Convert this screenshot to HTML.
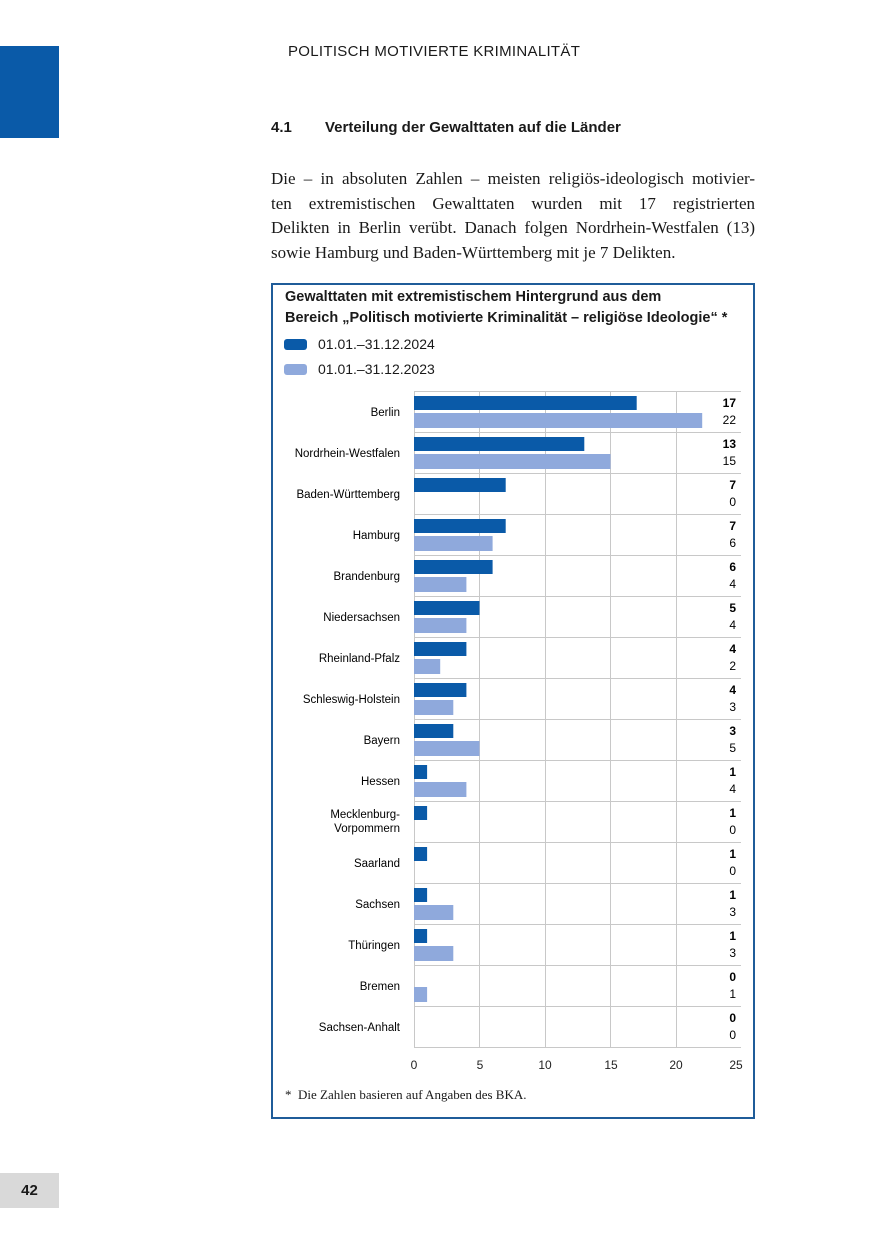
<!DOCTYPE html>
<html><head><meta charset="utf-8"><style>
body{margin:0;width:875px;height:1241px;background:#fff;position:relative;font-family:"Liberation Sans",sans-serif;color:#1a1a1a;overflow:hidden}
.a{position:absolute}
.j{display:block;text-align:justify;text-align-last:justify;white-space:nowrap}
</style></head><body>
<div class="a" style="left:0;top:46px;width:59px;height:92px;background:#0a5aa8"></div>
<div class="a" style="left:288px;top:43px;font-size:15px;letter-spacing:0.3px">POLITISCH MOTIVIERTE KRIMINALITÄT</div>
<div class="a" style="left:271px;top:119px;font-size:15px;font-weight:bold">4.1</div>
<div class="a" style="left:325px;top:119px;font-size:15px;font-weight:bold">Verteilung der Gewalttaten auf die Länder</div>
<div class="a" style="left:271px;top:167px;width:484px;font-family:'Liberation Serif',serif;font-size:17px;line-height:24.5px">
<span class="j" style="white-space:normal">Die – in absoluten Zahlen – meisten religiös-ideologisch motivier-</span>
<span class="j" style="white-space:normal">ten extremistischen Gewalttaten wurden mit 17 registrierten</span>
<span class="j" style="white-space:normal">Delikten in Berlin verübt. Danach folgen Nordrhein-Westfalen (13)</span>
<span style="display:block">sowie Hamburg und Baden-Württemberg mit je 7 Delikten.</span>
</div>
<div class="a" style="left:271px;top:283px;width:480px;height:832px;border:2px solid #1f5c99"></div>
<div class="a" style="left:285px;top:287px;font-size:14.5px;font-weight:bold;line-height:21px">Gewalttaten mit extremistischem Hintergrund aus dem<br>Bereich „Politisch motivierte Kriminalität – religiöse Ideologie“ *</div>
<div class="a" style="left:284px;top:339px;width:23px;height:11px;border-radius:3px;background:#0a5aa8"></div>
<div class="a" style="left:318px;top:336px;font-size:14px">01.01.–31.12.2024</div>
<div class="a" style="left:284px;top:364px;width:23px;height:11px;border-radius:3px;background:#8fa9dc"></div>
<div class="a" style="left:318px;top:361px;font-size:14px">01.01.–31.12.2023</div>
<svg class="a" style="left:0;top:0" width="875" height="1241" font-family="Liberation Sans, sans-serif" font-size="11.5">
<g stroke="#c8c8c8" stroke-width="1">
<line x1="414.5" y1="391" x2="414.5" y2="1047"/>
<line x1="479.5" y1="391" x2="479.5" y2="1047"/>
<line x1="545.5" y1="391" x2="545.5" y2="1047"/>
<line x1="610.5" y1="391" x2="610.5" y2="1047"/>
<line x1="676.5" y1="391" x2="676.5" y2="1047"/>
</g>
<g id="rows"></g>
<g font-size="12" text-anchor="middle" fill="#222">
<text x="414" y="1069">0</text><text x="480" y="1069">5</text><text x="545" y="1069">10</text><text x="611" y="1069">15</text><text x="676" y="1069">20</text><text x="736" y="1069">25</text>
</g>
</svg>
<div class="a" style="left:285px;top:1087px;font-family:'Liberation Serif',serif;font-size:13px">*&nbsp; Die Zahlen basieren auf Angaben des BKA.</div>
<div class="a" style="left:0;top:1173px;width:59px;height:35px;background:#d9d9d9;font-weight:bold;font-size:15px;line-height:35px;text-align:center">42</div>
<script>
var d=[["Berlin",17,22],["Nordrhein-Westfalen",13,15],["Baden-Württemberg",7,0],["Hamburg",7,6],["Brandenburg",6,4],["Niedersachsen",5,4],["Rheinland-Pfalz",4,2],["Schleswig-Holstein",4,3],["Bayern",3,5],["Hessen",1,4],["Mecklenburg-|Vorpommern",1,0],["Saarland",1,0],["Sachsen",1,3],["Thüringen",1,3],["Bremen",0,1],["Sachsen-Anhalt",0,0]];
var s="",u=13.1;
d.forEach(function(r,i){var y=391+i*41;
s+='<line x1="414" y1="'+(y+0.5)+'" x2="741" y2="'+(y+0.5)+'" stroke="#c8c8c8"/>';
if(r[1])s+='<rect x="414" y="'+(y+5)+'" width="'+r[1]*u+'" height="14" fill="#0a5aa8"/>';
if(r[2])s+='<rect x="414" y="'+(y+22)+'" width="'+r[2]*u+'" height="15" fill="#8fa9dc"/>';
var n=r[0].split("|");
if(n.length>1){s+='<text x="400" y="'+(y+17)+'" text-anchor="end">'+n[0]+'</text><text x="400" y="'+(y+31)+'" text-anchor="end">'+n[1]+'</text>';}
else s+='<text x="400" y="'+(y+25)+'" text-anchor="end">'+n[0]+'</text>';
s+='<text x="736" y="'+(y+16)+'" text-anchor="end" font-size="12" font-weight="bold">'+r[1]+'</text>';
s+='<text x="736" y="'+(y+33)+'" text-anchor="end" font-size="12">'+r[2]+'</text>';
});
s+='<line x1="414" y1="1047.5" x2="741" y2="1047.5" stroke="#c8c8c8"/>';
document.getElementById("rows").innerHTML=s;
</script>
</body></html>
